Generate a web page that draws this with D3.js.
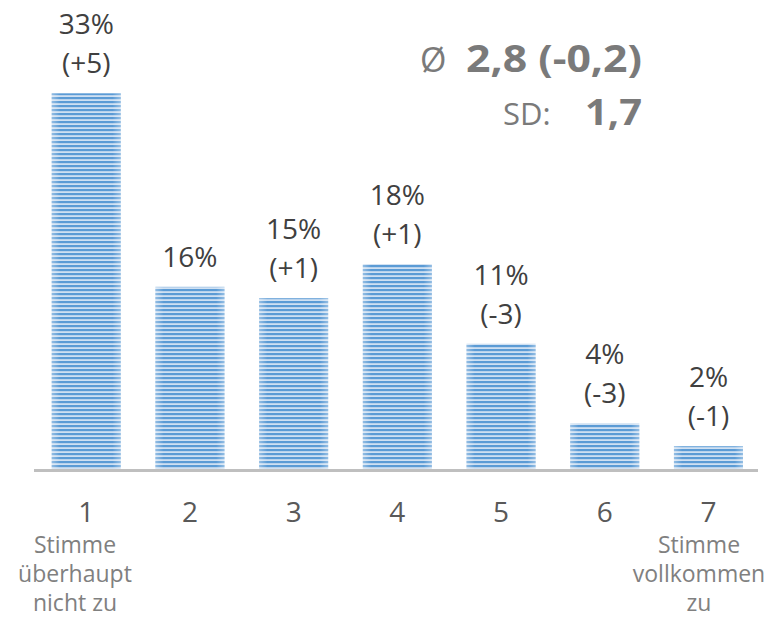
<!DOCTYPE html>
<html>
<head>
<meta charset="utf-8">
<script src="https://cdn.jsdelivr.net/npm/d3@7/dist/d3.min.js"></script>
<style>
  html, body { margin: 0; padding: 0; background: #ffffff; }
  svg { display: block; }
</style>
</head>
<body>
<script>
// ---- data ----
const categories = ["1", "2", "3", "4", "5", "6", "7"];
const values = [33, 16, 15, 18, 11, 4, 2];
const valueLabels = ["33%", "16%", "15%", "18%", "11%", "4%", "2%"];
const changeLabels = ["(+5)", "", "(+1)", "(+1)", "(-3)", "(-3)", "(-1)"];
const leftAnchorLines = ["Stimme", "überhaupt", "nicht zu"];
const rightAnchorLines = ["Stimme", "vollkommen", "zu"];
const meanLabel = "2,8 (-0,2)";
const sdLabel = "1,7";

// ---- layout ----
const W = 766, H = 620;
const baseY = 469;
const font = "'Open Sans', 'Noto Sans', sans-serif";

const svg = d3.select("body").append("svg")
  .attr("width", W).attr("height", H);

const defs = svg.append("defs");
const pat = defs.append("pattern")
  .attr("id", "stripes")
  .attr("patternUnits", "userSpaceOnUse")
  .attr("width", 8).attr("height", 4)
  .attr("y", 1);
pat.append("rect").attr("width", 8).attr("height", 4).attr("fill", "#cfe0f2");
pat.append("rect").attr("width", 8).attr("height", 2.2).attr("fill", "#5b9bd5");

const grad = defs.append("linearGradient").attr("id", "edge")
  .attr("x1", "0").attr("x2", "1").attr("y1", "0").attr("y2", "0");
grad.append("stop").attr("offset", "0").attr("stop-color", "#ffffff").attr("stop-opacity", 0.35);
grad.append("stop").attr("offset", "0.12").attr("stop-color", "#ffffff").attr("stop-opacity", 0);
grad.append("stop").attr("offset", "0.88").attr("stop-color", "#ffffff").attr("stop-opacity", 0);
grad.append("stop").attr("offset", "1").attr("stop-color", "#ffffff").attr("stop-opacity", 0.35);

const x = d3.scaleBand()
  .domain(categories)
  .range([51.7, 743])
  .paddingInner(0.334)
  .paddingOuter(0);

const y = d3.scaleLinear()
  .domain([0, 33])
  .range([baseY, 93.3]);

const bars = svg.append("g");
categories.forEach((c, i) => {
  const bx = x(c), bw = x.bandwidth(), by = y(values[i]), bh = baseY - y(values[i]);
  bars.append("rect")
    .attr("x", bx).attr("y", by).attr("width", bw).attr("height", bh)
    .attr("fill", "url(#stripes)");
  bars.append("rect")
    .attr("x", bx).attr("y", by).attr("width", bw).attr("height", bh)
    .attr("fill", "url(#edge)");
});

// axis line
svg.append("line")
  .attr("x1", 34).attr("x2", 758)
  .attr("y1", baseY + 1.5).attr("y2", baseY + 1.5)
  .attr("stroke", "#bfbfbf").attr("stroke-width", 3);

// value labels
const lab = svg.append("g")
  .attr("font-family", font).attr("font-size", 28)
  .attr("fill", "#404040").attr("text-anchor", "middle");
categories.forEach((c, i) => {
  const cx = x(c) + x.bandwidth() / 2;
  const top = y(values[i]);
  if (changeLabels[i]) {
    lab.append("text").attr("x", cx).attr("y", top - 59).text(valueLabels[i]);
    lab.append("text").attr("x", cx).attr("y", top - 20).text(changeLabels[i]);
  } else {
    lab.append("text").attr("x", cx).attr("y", top - 20).text(valueLabels[i]);
  }
});

// x axis tick labels
const xAxis = d3.axisBottom(x).tickSize(0).tickPadding(0);
const gx = svg.append("g")
  .attr("transform", `translate(0, 500)`)
  .call(xAxis);
gx.select(".domain").remove();
gx.selectAll("text")
  .attr("font-family", font).attr("font-size", 28)
  .attr("fill", "#595959")
  .attr("dy", null)
  .attr("y", 22);

// anchor labels
const anch = svg.append("g")
  .attr("font-family", font).attr("font-size", 23)
  .attr("fill", "#808080").attr("text-anchor", "middle");
leftAnchorLines.forEach((t, k) => {
  anch.append("text").attr("x", 75).attr("y", 553 + k * 29).text(t);
});
rightAnchorLines.forEach((t, k) => {
  anch.append("text").attr("x", 699).attr("y", 553 + k * 29).text(t);
});

// stats
const st = svg.append("g").attr("font-family", font).attr("fill", "#7a7a7a");
st.append("text").attr("x", 420).attr("y", 72).attr("font-size", 34).text("Ø");
st.append("text").attr("x", 466).attr("y", 72).attr("font-size", 37)
  .attr("font-weight", "bold")
  .attr("textLength", 176).attr("lengthAdjust", "spacingAndGlyphs")
  .text(meanLabel);
st.append("text").attr("x", 503).attr("y", 125).attr("font-size", 31).text("SD:");
st.append("text").attr("x", 585).attr("y", 125).attr("font-size", 36)
  .attr("font-weight", "bold")
  .attr("textLength", 57).attr("lengthAdjust", "spacingAndGlyphs")
  .text(sdLabel);
</script>
</body>
</html>
